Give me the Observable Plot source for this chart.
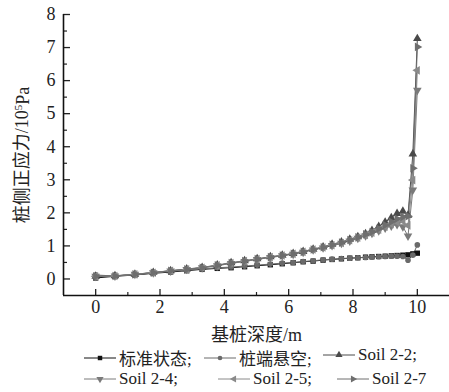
<!DOCTYPE html>
<html><head><meta charset="utf-8">
<script src="https://cdn.jsdelivr.net/npm/d3@7"></script>
<script src="https://cdn.jsdelivr.net/npm/@observablehq/plot@0.6"></script>
<style>
body{margin:0;background:#fff;font-family:'Liberation Serif','Times New Roman','Noto Sans CJK SC',serif;}
#legend{width:449px;font-size:17px;color:#222;}
.row{position:relative;height:24px;}
.item{position:absolute;display:flex;align-items:center;white-space:nowrap;}
.item svg{margin-right:3px;}
</style></head><body>
<div id="chart"></div>
<div id="legend"></div>
<script>
const depth = [0, 0.6, 1.22, 1.79, 2.33, 2.83, 3.31, 3.78, 4.21, 4.63, 5.02, 5.43, 5.8, 6.14, 6.45, 6.76, 7.07, 7.35, 7.64, 7.9, 8.15, 8.39, 8.59, 8.8, 9.0, 9.19, 9.37, 9.55, 9.71, 9.86, 10];
const stdState = [0.03, 0.08, 0.12, 0.17, 0.21, 0.25, 0.29, 0.32, 0.34, 0.37, 0.40, 0.43, 0.46, 0.49, 0.52, 0.54, 0.57, 0.59, 0.61, 0.63, 0.64, 0.66, 0.67, 0.68, 0.69, 0.70, 0.71, 0.72, 0.73, 0.76, 0.78];
const tipVoid = [0.12, 0.09, 0.13, 0.18, 0.23, 0.27, 0.31, 0.34, 0.36, 0.39, 0.42, 0.45, 0.48, 0.50, 0.53, 0.55, 0.58, 0.60, 0.62, 0.63, 0.64, 0.65, 0.66, 0.67, 0.68, 0.69, 0.69, 0.68, 0.57, 0.72, 1.03];
const soil22 = [0.08, 0.10, 0.14, 0.20, 0.25, 0.30, 0.35, 0.42, 0.49, 0.55, 0.61, 0.67, 0.72, 0.77, 0.83, 0.90, 0.97, 1.05, 1.12, 1.20, 1.28, 1.37, 1.47, 1.59, 1.72, 1.85, 1.98, 2.05, 1.93, 3.78, 7.27];
const soil24 = [0.08, 0.09, 0.14, 0.19, 0.24, 0.29, 0.34, 0.40, 0.47, 0.53, 0.59, 0.65, 0.70, 0.75, 0.81, 0.88, 0.94, 1.01, 1.08, 1.15, 1.23, 1.31, 1.38, 1.46, 1.54, 1.60, 1.65, 1.58, 1.30, 2.69, 5.71];
const soil25 = [0.08, 0.09, 0.14, 0.19, 0.25, 0.29, 0.34, 0.41, 0.48, 0.54, 0.60, 0.66, 0.71, 0.76, 0.82, 0.89, 0.95, 1.02, 1.09, 1.17, 1.25, 1.33, 1.40, 1.49, 1.58, 1.66, 1.72, 1.75, 1.62, 2.99, 6.31];
const soil27 = [0.08, 0.09, 0.14, 0.19, 0.25, 0.29, 0.34, 0.41, 0.48, 0.54, 0.60, 0.66, 0.71, 0.76, 0.82, 0.89, 0.96, 1.03, 1.10, 1.18, 1.26, 1.35, 1.42, 1.52, 1.63, 1.73, 1.82, 1.88, 1.90, 3.35, 7.02];
const seriesNames = ["标准状态", "桩端悬空", "Soil 2-2", "Soil 2-4", "Soil 2-5", "Soil 2-7"];
const seriesValues = [stdState, tipVoid, soil22, soil24, soil25, soil27];
const seriesColors = ["#111111", "#6a6a6a", "#4a4a4a", "#7a7a7a", "#8a8a8a", "#6e6e6e"];
const xMajor = [0, 2, 4, 6, 8, 10];
const xMinor = [1, 3, 5, 7, 9];
const yMajor = [0, 1, 2, 3, 4, 5, 6, 7, 8];
const yMinor = [0.5, 1.5, 2.5, 3.5, 4.5, 5.5, 6.5, 7.5];
const yTitleMain = "桩侧正应力/10";
const yTitleSup = "5";
const yTitleEnd = "Pa";
const xTitle = "基桩深度/m";

const s3 = Math.sqrt(3);
function tri(dir){
  return {draw(ctx, size){
    const y = -Math.sqrt(size / (s3 * 3));
    let pts = [[0, y*2], [-s3*y, -y], [s3*y, -y]];
    if (dir === "down") pts = pts.map(([a,b]) => [a, -b]);
    if (dir === "left") pts = pts.map(([a,b]) => [b, a]);
    if (dir === "right") pts = pts.map(([a,b]) => [-b, a]);
    ctx.moveTo(...pts[0]); ctx.lineTo(...pts[1]); ctx.lineTo(...pts[2]); ctx.closePath();
  }};
}
const symbols = [d3.symbolSquare, d3.symbolCircle, tri("up"), tri("down"), tri("left"), tri("right")];
const symbolSizes = [3.0, 2.8, 3.2, 3.2, 3.2, 3.2];

const rows = [];
seriesNames.forEach((name, i) => {
  depth.forEach((d, j) => rows.push({series: name, idx: i, depth: d, value: seriesValues[i][j]}));
});

const marks = [];
seriesNames.forEach((name, i) => {
  const data = rows.filter(r => r.idx === i);
  marks.push(Plot.line(data, {x: "depth", y: "value", stroke: seriesColors[i], strokeWidth: 1}));
});
seriesNames.forEach((name, i) => {
  const data = rows.filter(r => r.idx === i);
  marks.push(Plot.dot(data, {x: "depth", y: "value", symbol: () => symbols[i], r: symbolSizes[i], fill: seriesColors[i], stroke: "none"}));
});

const font = "'Liberation Serif','Times New Roman','Noto Sans CJK SC',serif";
const chart = Plot.plot({
  width: 449, height: 345,
  marginLeft: 63, marginRight: 0, marginTop: 14, marginBottom: 50,
  style: {fontFamily: font, fontSize: "18px", color: "#222", background: "#fff"},
  x: {domain: [-1, 11]},
  y: {domain: [-0.5, 8]},
  symbol: {type: "identity"},
  marks: [
    Plot.axisX({ticks: xMajor, tickSize: 0, tickPadding: 5, fontSize: 18, fontFamily: font, label: xTitle, labelAnchor: "center", labelArrow: "none", labelOffset: 45}),
    Plot.axisX({ticks: xMajor, tickSize: -6, text: null, label: null, strokeWidth: 1.3}),
    Plot.axisX({ticks: xMinor, tickSize: -3, text: null, label: null, strokeWidth: 1.2}),
    Plot.axisY({ticks: yMajor, tickSize: 0, tickPadding: 8, fontSize: 18, fontFamily: font, label: yTitleMain + yTitleSup + yTitleEnd, labelAnchor: "center", labelArrow: "none", labelOffset: 48}),
    Plot.axisY({ticks: yMajor, tickSize: -7, text: null, label: null, strokeWidth: 1.3}),
    Plot.axisY({ticks: yMinor, tickSize: -4, text: null, label: null, strokeWidth: 1.2}),
    Plot.ruleX([-1], {stroke: "#111", strokeWidth: 1.6}),
    Plot.ruleY([-0.5], {stroke: "#111", strokeWidth: 1.6}),
    ...marks
  ]
});
// render the y title's exponent as a real superscript
d3.select(chart).selectAll("text").each(function(){
  const t = d3.select(this);
  if (t.text() === yTitleMain + yTitleSup + yTitleEnd) {
    const tn = t.select("tspan").empty() ? t : t.select("tspan");
    tn.text(null);
    tn.append("tspan").text(yTitleMain);
    tn.append("tspan").attr("font-size", "11px").attr("dy", "-0.55em").text(yTitleSup);
    tn.append("tspan").attr("dy", "0.35em").text(yTitleEnd);
  }
});
document.getElementById("chart").appendChild(chart);

// legend
const legendLayout = [[0, 84], [1, 204], [2, 323], [3, 84], [4, 218], [5, 337]];
const legend = document.getElementById("legend");
const r1 = document.createElement("div"); r1.className = "row";
const r2 = document.createElement("div"); r2.className = "row";
legend.append(r1, r2);
legendLayout.forEach(([i, left], k) => {
  const item = document.createElement("div");
  item.className = "item";
  item.style.left = left + "px";
  const w = 32;
  const sw = d3.create("svg").attr("width", w).attr("height", 12);
  sw.append("line").attr("x1", 0).attr("x2", w).attr("y1", 6).attr("y2", 6).attr("stroke", seriesColors[i]).attr("stroke-width", 1);
  const sz = Math.PI * symbolSizes[i] * symbolSizes[i] * 0.7;
  sw.append("path").attr("d", d3.symbol(symbols[i], sz)()).attr("transform", `translate(${w/2},6)`).attr("fill", seriesColors[i]);
  item.appendChild(sw.node());
  const t = document.createElement("span");
  t.textContent = seriesNames[i] + (i < 5 ? ";" : "");
  item.appendChild(t);
  (k < 3 ? r1 : r2).appendChild(item);
});
</script>
</body></html>
